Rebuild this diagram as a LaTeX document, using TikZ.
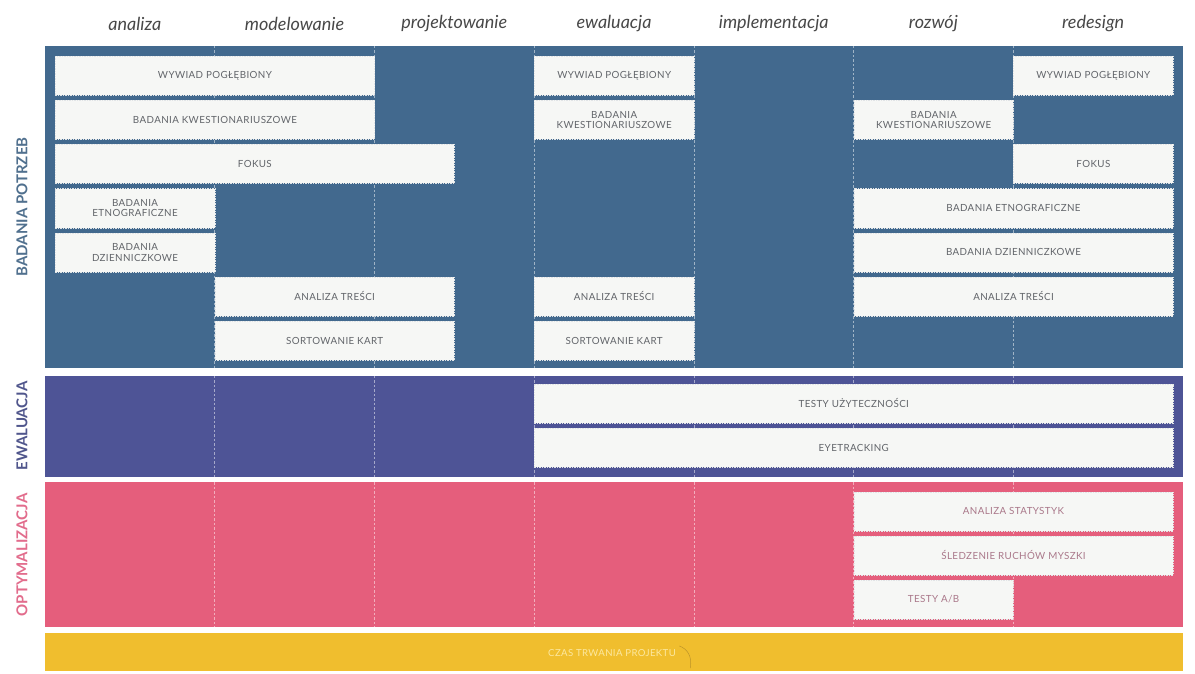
\documentclass[tikz,border=0pt]{standalone}
\usepackage{fontspec}
\setmainfont{Lato}
\newfontfamily\taskfont{Lato}[LetterSpace=4]
\definecolor{bandblue}{RGB}{66,105,142}
\definecolor{bandpurple}{RGB}{78,84,150}
\definecolor{bandpink}{RGB}{229,94,124}
\definecolor{bandyellow}{RGB}{240,190,46}
\definecolor{boxfill}{RGB}{246,247,245}
\definecolor{boxedge}{RGB}{225,228,230}
\definecolor{tasktext}{RGB}{98,101,106}
\definecolor{pinktext}{RGB}{170,120,138}
\definecolor{headtext}{RGB}{72,72,72}
\definecolor{lblblue}{RGB}{80,112,142}
\definecolor{lblpurple}{RGB}{80,86,140}
\definecolor{lblpink}{RGB}{226,108,140}
\definecolor{yellowtext}{RGB}{252,232,160}
\definecolor{yellowarc}{RGB}{176,138,40}
% column grid: first column starts at 55, each column is 159.714 wide
\newcommand\colx[1]{55+(#1)*159.714}
% task box: name, first column, column span, top y, extra style, text
\newcommand\task[6]{%
  \node[taskbox,#5,minimum width={(#3)*159.714pt},anchor=north west]
    (#1) at ({\colx{#2}},#4) {#6};}
\begin{document}
\begin{tikzpicture}[x=1pt,y=-1pt,
  band/.style={draw=none,anchor=north west,minimum width=1138pt,inner sep=0pt},
  divider/.style={white,line width=0.6pt,dash pattern=on 2.5pt off 2pt,opacity=0.5},
  taskbox/.style={fill=boxfill,draw=boxedge,line width=0.4pt,dash pattern=on 1.5pt off 1pt,
    minimum height=39pt,inner sep=1pt,align=center,text=tasktext,
    font=\taskfont\fontsize{9.8}{10.4}\selectfont},
  pinkbox/.style={text=pinktext},
  head/.style={text=headtext,font=\fontsize{18}{21}\selectfont\itshape},
  sidelabel/.style={rotate=90,font=\fontsize{15}{17}\selectfont\bfseries}]
\useasboundingbox (0,0) rectangle (1195,674);
\fill[white] (0,0) rectangle (1195,674);

% phase headers
\foreach \t [count=\i from 0] in {analiza,modelowanie,projektowanie,ewaluacja,implementacja,rozwój,redesign}
  \node[head] (head\i) at ({\colx{\i+0.5}},24) {\t};

% horizontal bands
\node[band,fill=bandblue,minimum height=322pt] (potrzeby) at (45,46) {};
\node[band,fill=bandpurple,minimum height=101pt] (ewaluacja) at (45,375.5) {};
\node[band,fill=bandpink,minimum height=145pt] (optymalizacja) at (45,482) {};
\node[band,fill=bandyellow,minimum height=38pt] (czas) at (45,632.5) {};

% dashed column dividers inside each band
\foreach \k in {1,...,6} {
  \draw[divider] ({\colx{\k}},46) -- ({\colx{\k}},368);
  \draw[divider] ({\colx{\k}},375.5) -- ({\colx{\k}},476.5);
  \draw[divider] ({\colx{\k}},482) -- ({\colx{\k}},627);
}

% side labels
\node[sidelabel,text=lblblue] (lblpotrzeby) at (22,207) {BADANIA POTRZEB};
\node[sidelabel,text=lblpurple] (lblewaluacja) at (22,426) {EWALUACJA};
\node[sidelabel,text=lblpink] (lbloptymalizacja) at (22,555) {OPTYMALIZACJA};

% badania potrzeb
\task{wywiadA}{0}{2}{56}{}{WYWIAD POGŁĘBIONY}
\task{kwestA}{0}{2}{100.2}{}{BADANIA KWESTIONARIUSZOWE}
\task{fokusA}{0}{2.5}{144.3}{}{FOKUS}
\task{etnoA}{0}{1}{188.5}{}{BADANIA\\ETNOGRAFICZNE}
\task{dziennA}{0}{1}{232.7}{}{BADANIA\\DZIENNICZKOWE}
\task{trescA}{1}{1.5}{276.8}{}{ANALIZA TREŚCI}
\task{kartyA}{1}{1.5}{321}{}{SORTOWANIE KART}

\task{wywiadB}{3}{1}{56}{}{WYWIAD POGŁĘBIONY}
\task{kwestB}{3}{1}{100.2}{}{BADANIA\\KWESTIONARIUSZOWE}
\task{trescB}{3}{1}{276.8}{}{ANALIZA TREŚCI}
\task{kartyB}{3}{1}{321}{}{SORTOWANIE KART}

\task{wywiadC}{6}{1}{56}{}{WYWIAD POGŁĘBIONY}
\task{kwestC}{5}{1}{100.2}{}{BADANIA\\KWESTIONARIUSZOWE}
\task{fokusC}{6}{1}{144.3}{}{FOKUS}
\task{etnoC}{5}{2}{188.5}{}{BADANIA ETNOGRAFICZNE}
\task{dziennC}{5}{2}{232.7}{}{BADANIA DZIENNICZKOWE}
\task{trescC}{5}{2}{276.8}{}{ANALIZA TREŚCI}

% ewaluacja
\task{testyU}{3}{4}{383.5}{}{TESTY UŻYTECZNOŚCI}
\task{eyetr}{3}{4}{428}{}{EYETRACKING}

% optymalizacja
\task{statyst}{5}{2}{491.5}{pinkbox}{ANALIZA STATYSTYK}
\task{mysz}{5}{2}{535.5}{pinkbox}{ŚLEDZENIE RUCHÓW MYSZKI}
\task{testyAB}{5}{1}{579.5}{pinkbox}{TESTY A/B}

% project duration bar
\node[text=yellowtext,font=\taskfont\fontsize{9.6}{11}\selectfont] (czaslbl) at (612,653) {CZAS TRWANIA PROJEKTU};
\draw[yellowarc,line width=0.5pt,opacity=0.8] (czaslbl.north east)
  .. controls +(8,3) and +(2,-12) .. ([xshift=11pt,yshift=-8pt]czaslbl.south east);
\end{tikzpicture}
\end{document}
